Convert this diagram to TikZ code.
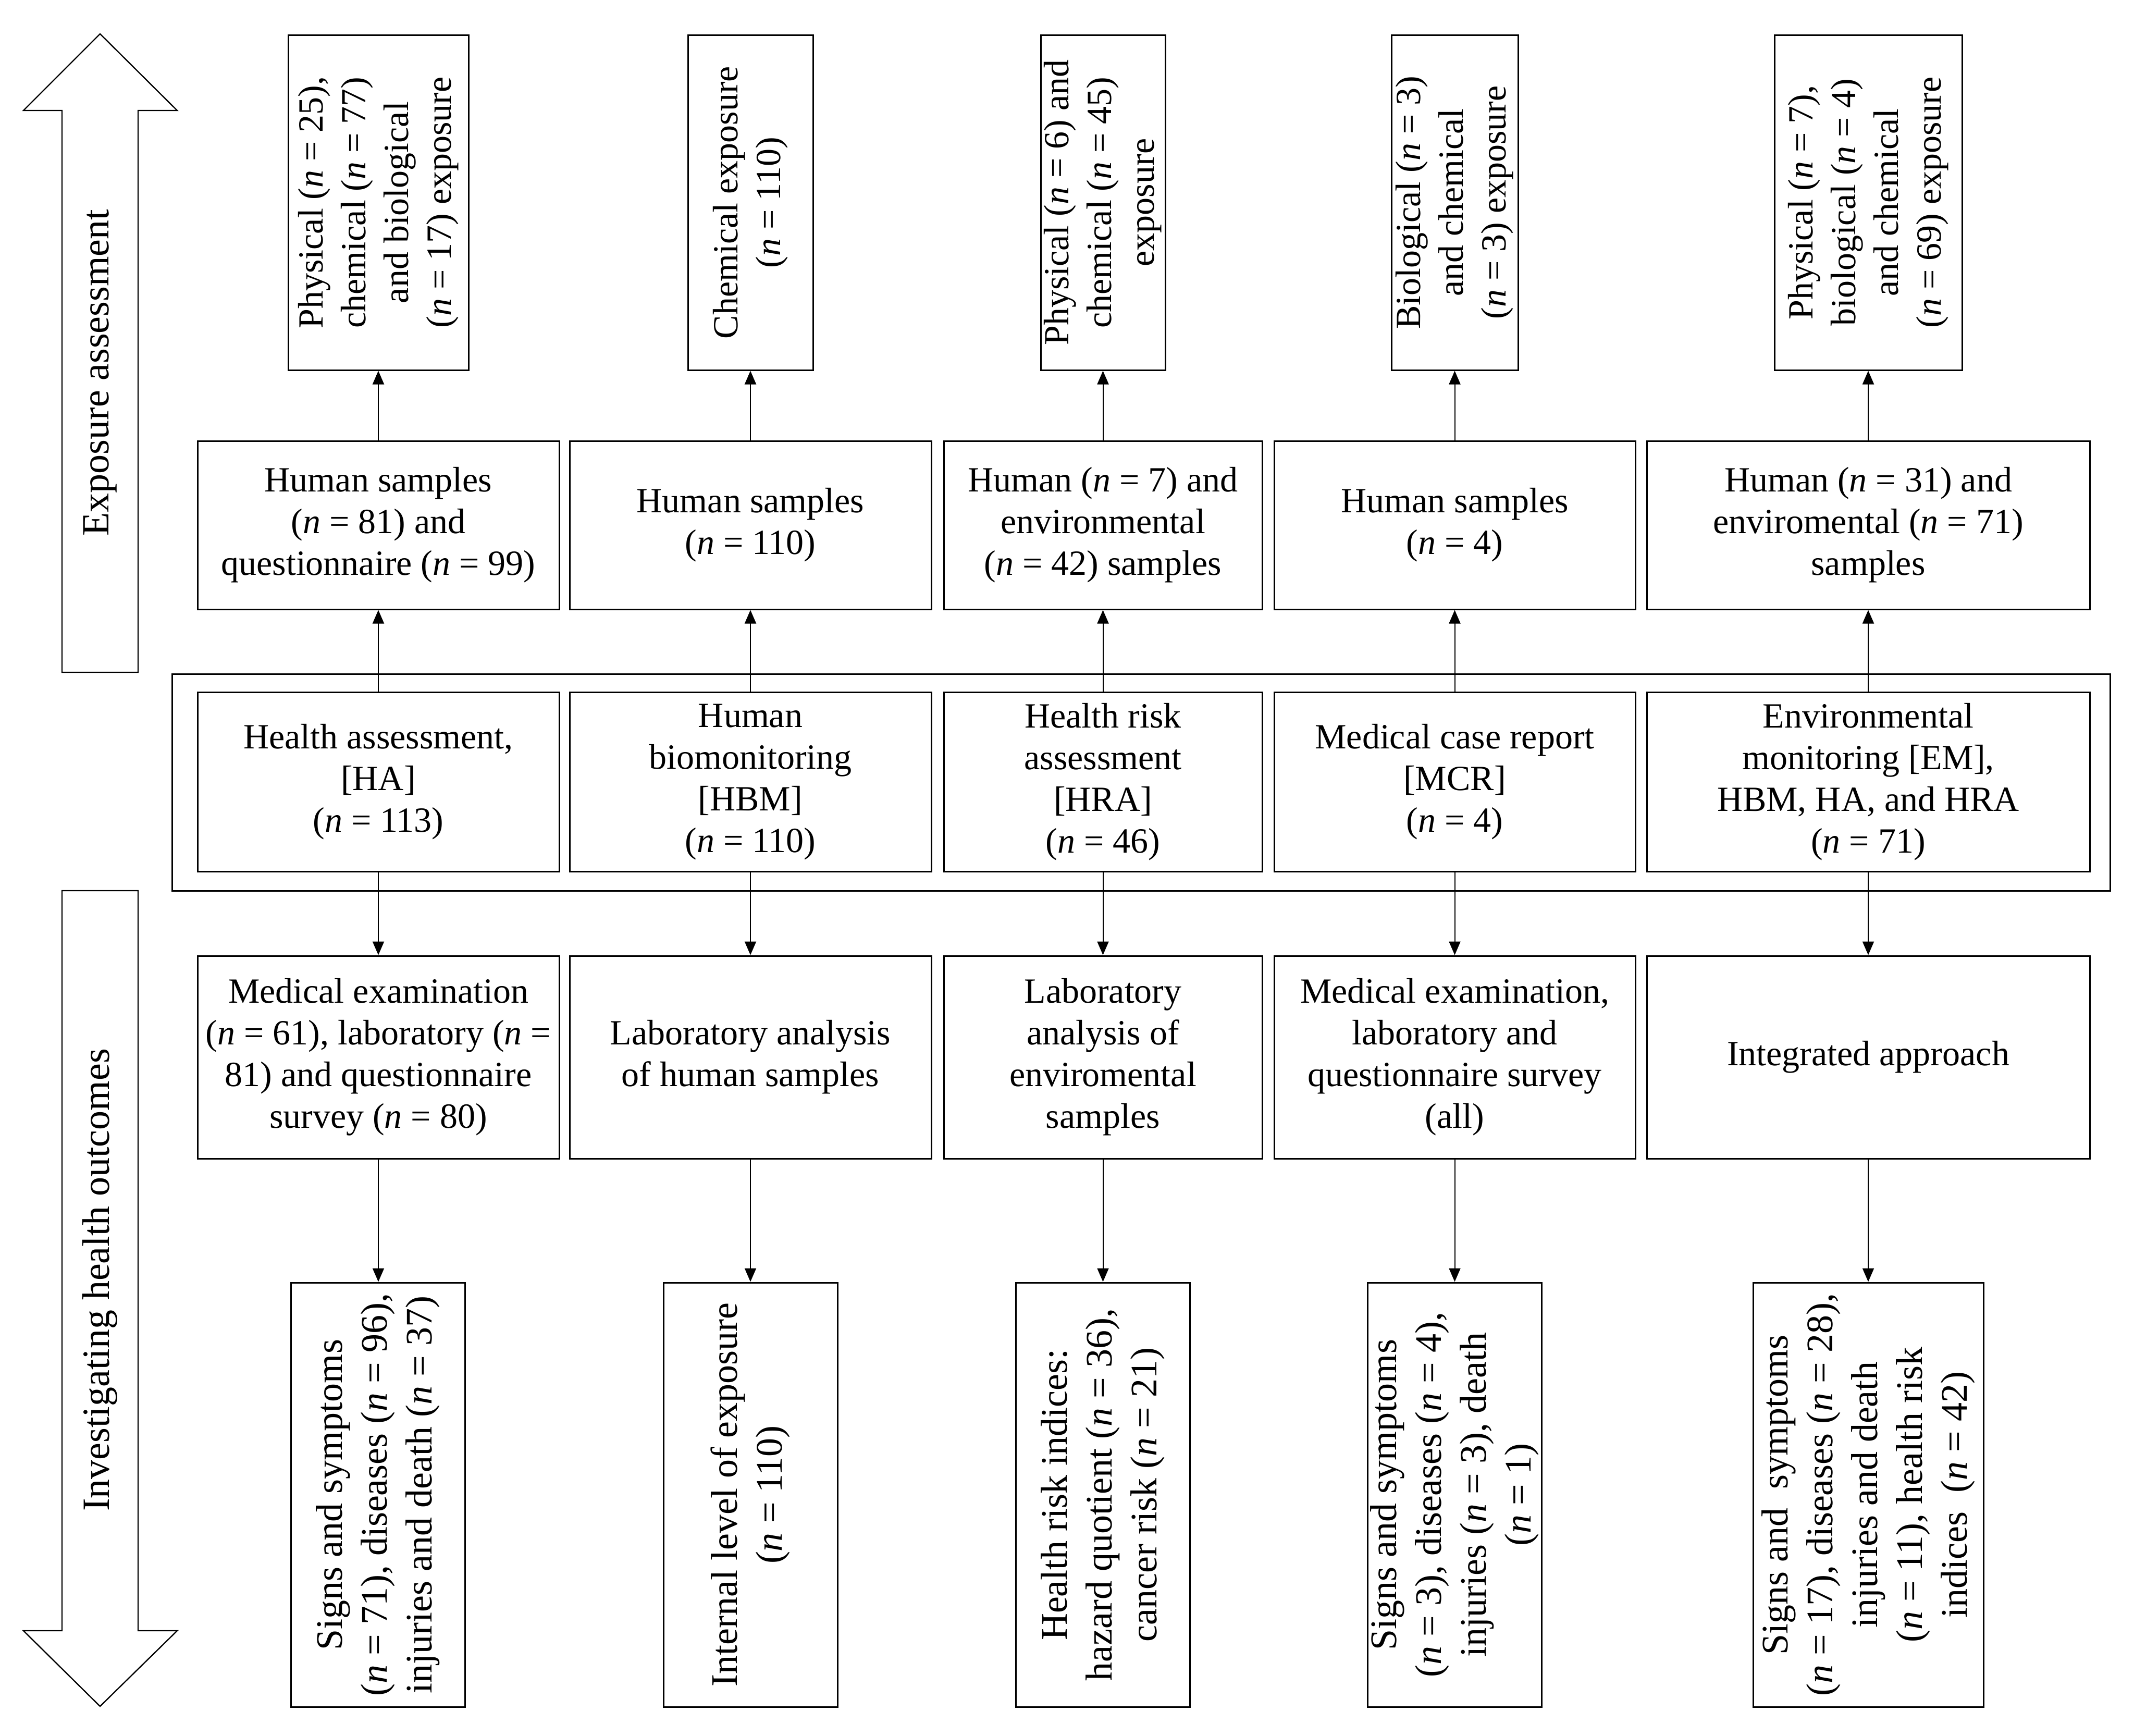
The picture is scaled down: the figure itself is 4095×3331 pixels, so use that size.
\documentclass[tikz,border=0pt]{standalone}
\usepackage{fontspec}
\setmainfont{Liberation Serif}
\usetikzlibrary{arrows.meta,fit}
\newcommand{\nN}[1]{(\textit{n} = #1)}
% \bx[style]{name}{x1}{y1}{x2}{y2}{text}
\newcommand{\bx}[7][box]{\node[#1,minimum width={(#5-#3)/4},minimum height={(#6-#4)/4}] (#2) at ({(#3+#5)/2},{(#4+#6)/2}) {#7};}
\begin{document}
\begin{tikzpicture}[x=0.25pt,y=-0.25pt,
  box/.style={draw,line width=0.75pt,inner sep=0pt,align=center,font=\fontsize{17}{20}\selectfont},
  frm/.style={draw,line width=0.75pt,inner sep=0pt},
  vtxt/.style={rotate=90,inner sep=0pt,align=center,font=\fontsize{17}{20.5}\selectfont},
  otxt/.style={rotate=90,inner sep=0pt,align=center,font=\fontsize{18}{21.5}\selectfont},
  conn/.style={line width=0.5pt,-{Triangle[length=6.5pt,width=5.5pt]}},
  bigarrow/.style={draw,line width=0.6pt,fill=white},
  lbl/.style={rotate=90,font=\fontsize{18.5}{22}\selectfont,inner sep=0pt}]

\useasboundingbox (0,0) rectangle (4095,3331);

% big side arrows
\draw[bigarrow] (119,1290) -- (119,212) -- (45,212) -- (192,65) -- (340,212) -- (265,212) -- (265,1290) -- cycle;
\node[lbl] (lblexp) at (192,715) {Exposure assessment};
\draw[bigarrow] (119,1709) -- (265,1709) -- (265,3129) -- (340,3129) -- (192,3274) -- (45,3129) -- (119,3129) -- cycle;
\node[lbl] (lblinv) at (192,2456) {Investigating health outcomes};

% top row (exposure)
\bx[frm]{t1}{553}{67}{899}{710}{}
\node[vtxt] (t1x) at (t1.center) {Physical \nN{25},\\chemical \nN{77}\\and biological\\\nN{17} exposure};
\bx[frm]{t2}{1320}{67}{1560}{710}{}
\node[vtxt] (t2x) at (t2.center) {Chemical exposure\\\nN{110}};
\bx[frm]{t3}{1997}{67}{2236}{710}{}
\node[vtxt] (t3x) at (t3.center) {Physical \nN{6} and\\chemical \nN{45}\\exposure};
\bx[frm]{t4}{2670}{67}{2913}{710}{}
\node[vtxt] (t4x) at (t4.center) {Biological \nN{3}\\and chemical\\\nN{3} exposure};
\bx[frm]{t5}{3405}{67}{3765}{710}{}
\node[vtxt] (t5x) at (t5.center) {Physical \nN{7},\\biological \nN{4}\\and chemical\\\nN{69} exposure};

% second row (samples)
\bx{r2a}{379}{846}{1073}{1169}{Human samples\\\nN{81} and\\questionnaire \nN{99}}
\bx{r2b}{1093}{846}{1787}{1169}{Human samples\\\nN{110}}
\bx{r2c}{1811}{846}{2422}{1169}{Human \nN{7} and\\environmental\\\nN{42} samples}
\bx{r2d}{2445}{846}{3138}{1169}{Human samples\\\nN{4}}
\bx{r2e}{3160}{846}{4010}{1169}{Human \nN{31} and\\enviromental \nN{71}\\samples}

% frame around approaches
\bx[frm]{frame}{330}{1293}{4049}{1709}{}

% third row (approaches)
\bx{r3a}{379}{1328}{1073}{1672}{Health assessment,\\{[HA]}\\\nN{113}}
\bx{r3b}{1093}{1328}{1787}{1672}{Human\\biomonitoring\\{[HBM]}\\\nN{110}}
\bx{r3c}{1811}{1328}{2422}{1672}{Health risk\\assessment\\{[HRA]}\\\nN{46}}
\bx{r3d}{2445}{1328}{3138}{1672}{Medical case report\\{[MCR]}\\\nN{4}}
\bx{r3e}{3160}{1328}{4010}{1672}{Environmental\\monitoring [EM],\\HBM, HA, and HRA\\\nN{71}}

% fourth row (methods)
\bx{r4a}{379}{1834}{1073}{2223}{Medical examination\\\nN{61}, laboratory (\textit{n} =\\81) and questionnaire\\survey \nN{80}}
\bx{r4b}{1093}{1834}{1787}{2223}{Laboratory analysis\\of human samples}
\bx{r4c}{1811}{1834}{2422}{2223}{Laboratory\\analysis of\\enviromental\\samples}
\bx{r4d}{2445}{1834}{3138}{2223}{Medical examination,\\laboratory and\\questionnaire survey\\(all)}
\bx{r4e}{3160}{1834}{4010}{2223}{Integrated approach}

% fifth row (outcomes)
\bx[frm]{r5a}{558}{2461}{892}{3275}{}
\node[otxt] (r5ax) at (r5a.center) {Signs and symptoms\\\nN{71}, diseases \nN{96},\\injuries and death \nN{37}};
\bx[frm]{r5b}{1273}{2461}{1607}{3275}{}
\node[otxt] (r5bx) at (r5b.center) {Internal level of exposure\\\nN{110}};
\bx[frm]{r5c}{1949}{2461}{2283}{3275}{}
\node[otxt] (r5cx) at (r5c.center) {Health risk indices:\\hazard quotient \nN{36},\\cancer risk \nN{21}};
\bx[frm]{r5d}{2624}{2461}{2958}{3275}{}
\node[otxt] (r5dx) at (r5d.center) {Signs and symptoms\\\nN{3}, diseases \nN{4},\\injuries \nN{3}, death\\\nN{1}};
\bx[frm]{r5e}{3364}{2461}{3806}{3275}{}
\node[otxt] (r5ex) at (r5e.center) {Signs and~ symptoms\\\nN{17}, diseases \nN{28},\\injuries and death\\\nN{11}, health risk\\indices~ \nN{42}};

% connectors
\foreach \c in {a,b,c,d,e}{
  \draw[conn] (r2\c.north) -- (r2\c.north |- t1.south);
  \draw[conn] (r3\c.north) -- (r2\c.south);
  \draw[conn] (r3\c.south) -- (r4\c.north);
  \draw[conn] (r4\c.south) -- (r4\c.south |- r5a.north);
}
\end{tikzpicture}
\end{document}
